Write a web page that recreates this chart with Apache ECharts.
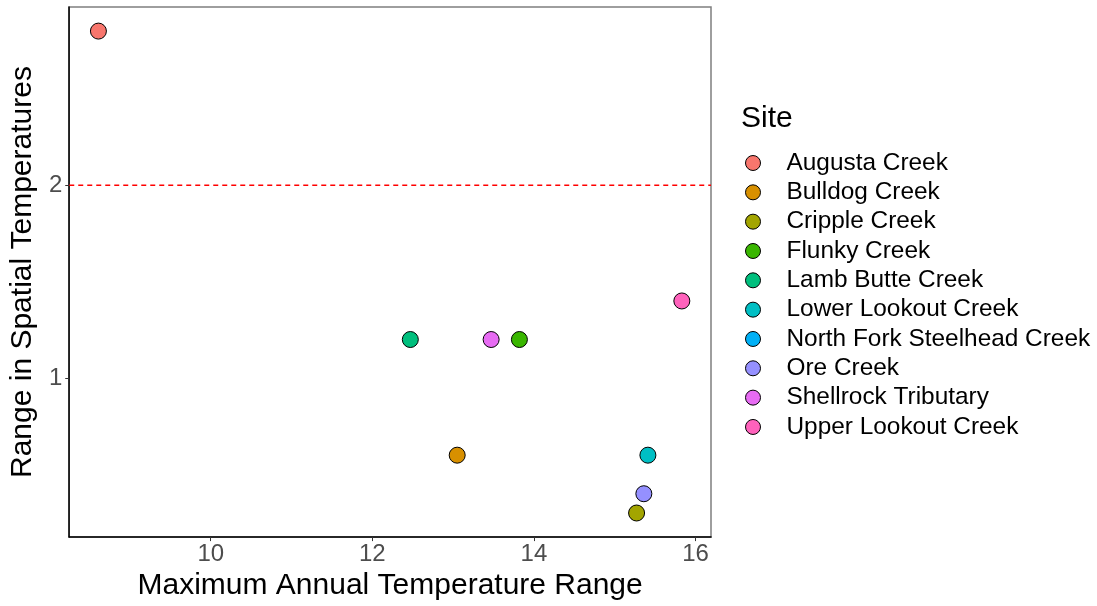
<!DOCTYPE html>
<html>
<head>
<meta charset="utf-8">
<script src="https://cdn.jsdelivr.net/npm/echarts@6/dist/echarts.min.js"></script>
<style>
  html, body { margin: 0; padding: 0; background: #fff; }
  #chart { width: 1097px; height: 606px; }
</style>
</head>
<body>
<div id="chart"></div>
<script>
// Sites and their temperature statistics
const sites = [
  'Augusta Creek', 'Bulldog Creek', 'Cripple Creek', 'Flunky Creek',
  'Lamb Butte Creek', 'Lower Lookout Creek', 'North Fork Steelhead Creek',
  'Ore Creek', 'Shellrock Tributary', 'Upper Lookout Creek'
];
// Maximum annual temperature range (x); null = no observation
const maxAnnualRange = [8.61, 13.05, 15.27, 13.82, 12.47, 15.41, null, 15.36, 13.47, 15.83];
// Range in spatial temperatures (y)
const spatialRange = [2.8, 0.6, 0.3, 1.2, 1.2, 0.6, null, 0.4, 1.2, 1.4];
// Discrete hue palette, one per site
const siteColors = [
  '#F8766D', '#D89000', '#A3A500', '#39B600', '#00BF7D',
  '#00BFC4', '#00B0F6', '#9590FF', '#E76BF3', '#FF62BC'
];
const xTicks = [10, 12, 14, 16];
const yTicks = [1, 2];
const thresholdY = 2;

const FONT = '"Liberation Sans", Arial, sans-serif';

// 5% padding on each side of the data range
const pad = (lo, hi) => ({ lo: lo - 0.05 * (hi - lo), hi: hi + 0.05 * (hi - lo) });
const xs = maxAnnualRange.filter(v => v != null);
const ys = spatialRange.filter(v => v != null);
const xExt = pad(Math.min(...xs), Math.max(...xs));
const yExt = pad(Math.min(...ys), Math.max(...ys));

const series = sites.map((name, i) => ({
  name: name,
  type: 'scatter',
  symbol: 'circle',
  symbolSize: 16,
  itemStyle: { color: siteColors[i], borderColor: '#000', borderWidth: 1, opacity: 1 },
  data: (maxAnnualRange[i] == null || spatialRange[i] == null) ? [] : [[maxAnnualRange[i], spatialRange[i]]],
  z: 3
}));

// Dashed horizontal reference line across the full x extent
series.push({
  name: 'threshold',
  type: 'line',
  silent: true,
  symbol: 'none',
  showSymbol: false,
  color: '#FF0000',
  lineStyle: { color: '#FF0000', type: [5, 4], width: 1.5 },
  data: [[xExt.lo, thresholdY], [xExt.hi, thresholdY]],
  z: 2
});

const chart = echarts.init(document.getElementById('chart'), null, { renderer: 'canvas' });
chart.setOption({
  animation: false,
  backgroundColor: '#ffffff',
  textStyle: { fontFamily: FONT },
  title: {
    text: 'Site',
    left: 741,
    top: 104,
    padding: 0,
    textStyle: { fontFamily: FONT, fontSize: 30, fontWeight: 'normal', color: '#000', lineHeight: 30 }
  },
  legend: {
    data: sites,
    orient: 'vertical',
    left: 745,
    top: 151,
    padding: 0,
    icon: 'circle',
    itemWidth: 15,
    itemHeight: 15,
    itemGap: 5.33,
    selectedMode: false,
    itemStyle: { borderWidth: 1, borderColor: '#000' },
    textStyle: { fontFamily: FONT, fontSize: 24.4, color: '#000', lineHeight: 24, padding: [0, 0, 0, 21] }
  },
  grid: {
    left: 68, right: 386, top: 7, bottom: 67,
    show: true,
    borderColor: '#7F7F7F',
    borderWidth: 1.5
  },
  xAxis: {
    type: 'value',
    min: xExt.lo,
    max: xExt.hi,
    name: 'Maximum Annual Temperature Range',
    nameLocation: 'middle',
    nameGap: 31,
    nameTextStyle: { fontFamily: FONT, fontSize: 30, color: '#000' },
    splitLine: { show: false },
    axisLine: { show: true, onZero: false, lineStyle: { color: '#000', width: 1.5 } },
    axisTick: { show: true, length: 4, customValues: xTicks, lineStyle: { color: '#333', width: 1 } },
    axisLabel: { customValues: xTicks, margin: 5, fontFamily: FONT, fontSize: 24, color: '#4D4D4D' }
  },
  yAxis: {
    type: 'value',
    min: yExt.lo,
    max: yExt.hi,
    name: 'Range in Spatial Temperatures',
    nameLocation: 'middle',
    nameGap: 27,
    nameRotate: 90,
    nameTextStyle: { fontFamily: FONT, fontSize: 30, color: '#000' },
    splitLine: { show: false },
    axisLine: { show: true, onZero: false, lineStyle: { color: '#000', width: 1.5 } },
    axisTick: { show: true, length: 4, customValues: yTicks, lineStyle: { color: '#333', width: 1 } },
    axisLabel: { customValues: yTicks, margin: 7, fontFamily: FONT, fontSize: 24, color: '#4D4D4D' }
  },
  series: series
});
</script>
</body>
</html>
